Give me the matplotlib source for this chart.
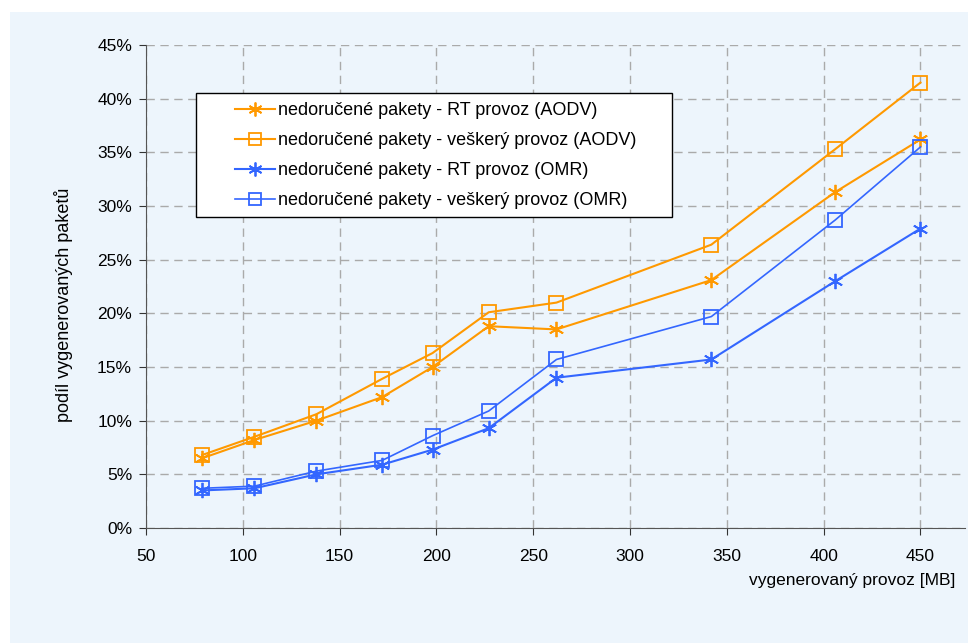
import matplotlib.pyplot as plt
from matplotlib.patches import Rectangle
from matplotlib.ticker import FuncFormatter

plt.rcParams['font.family'] = ['Liberation Sans', 'DejaVu Sans']

# generated traffic [MB]
provoz = [79, 106, 138, 172, 198, 227, 262, 342, 406, 450]

# share of undelivered packets [%]
aodv_rt = [6.5, 8.2, 10.0, 12.2, 15.0, 18.8, 18.5, 23.1, 31.3, 36.2]
aodv_all = [6.8, 8.5, 10.6, 13.9, 16.3, 20.1, 21.0, 26.4, 35.3, 41.5]
omr_rt = [3.5, 3.7, 5.0, 5.9, 7.3, 9.3, 14.0, 15.7, 23.0, 27.9]
omr_all = [3.7, 3.9, 5.3, 6.3, 8.6, 10.9, 15.7, 19.7, 28.7, 35.5]

labels = ['nedoručené pakety - RT provoz (AODV)',
          'nedoručené pakety - veškerý provoz (AODV)',
          'nedoručené pakety - RT provoz (OMR)',
          'nedoručené pakety - veškerý provoz (OMR)']

orange = '#FF9900'
blue = '#3366FF'
bg = '#EDF5FC'
star = (6, 2, 0)

fig = plt.figure(figsize=(9.68, 6.43), dpi=100)
fig.patch.set_facecolor('white')
fig.patches.append(Rectangle((10 / 968, 0), 1, 1 - 12 / 643,
                             transform=fig.transFigure, facecolor=bg,
                             edgecolor='none', zorder=-10))

# axes placed in pixel units of the 968x643 canvas
W, H = 968, 643
x0, x1, y0, y1 = 146, 965, 528, 45
ax = fig.add_axes([x0 / W, 1 - y0 / H, (x1 - x0) / W, (y0 - y1) / H])
ax.set_facecolor(bg)

def px(x, y):
    return (x - x0) / (x1 - x0), (y0 - y) / (y0 - y1)

ax.plot(provoz, aodv_rt, color=orange, lw=1.5, marker=star, ms=11, mew=1.3, label=labels[0])
ax.plot(provoz, aodv_all, color=orange, lw=1.5, marker='s', ms=10, mfc='none', mew=1.3, label=labels[1])
ax.plot(provoz, omr_rt, color=blue, lw=1.5, marker=star, ms=11, mew=1.3, label=labels[2])
ax.plot(provoz, omr_all, color=blue, lw=1.2, marker='s', ms=10, mfc='none', mew=1.3, label=labels[3])

ax.set_xlim(50, 473)
ax.set_ylim(0, 45)
ax.set_xticks(range(50, 451, 50))
ax.set_yticks(range(0, 46, 5))
ax.yaxis.set_major_formatter(FuncFormatter(lambda v, p: '%d%%' % v))

ax.grid(True, color='#AAAAAA', linestyle=(0, (6, 4)), linewidth=1)
ax.set_axisbelow(True)
for s in ['top', 'right']:
    ax.spines[s].set_visible(False)
for s in ['left', 'bottom']:
    ax.spines[s].set_color('#555555')
ax.tick_params(axis='both', direction='out', length=5, color='#333333',
               labelsize=12.5)
ax.tick_params(axis='x', pad=10)
ax.tick_params(axis='y', pad=5)

ax.set_ylabel('podíl vygenerovaných paketů', fontsize=13)
ax.yaxis.set_label_coords(*px(73, 305))
fig.text(955 / W, 1 - 580 / H, 'vygenerovaný provoz [MB]', fontsize=12.5,
         ha='right', va='center')

# legend frame drawn separately so the entries can sit inset from the border
bx0, by0 = px(196, 217)
bx1, by1 = px(672, 93)
ax.add_patch(Rectangle((bx0, by0), bx1 - bx0, by1 - by0, transform=ax.transAxes,
                       facecolor='white', edgecolor='black', lw=1, zorder=5))
leg = ax.legend(loc='upper left', bbox_to_anchor=px(235, 102),
                fontsize=13, frameon=False, borderpad=0, labelspacing=0.72,
                handlelength=2.2, handletextpad=0.2, borderaxespad=0)
leg.set_zorder(6)
for h in leg.legend_handles:
    h.set_markersize(10 if h.get_marker() == star else 8)

plt.savefig('out.png', dpi=100, facecolor=fig.get_facecolor())
